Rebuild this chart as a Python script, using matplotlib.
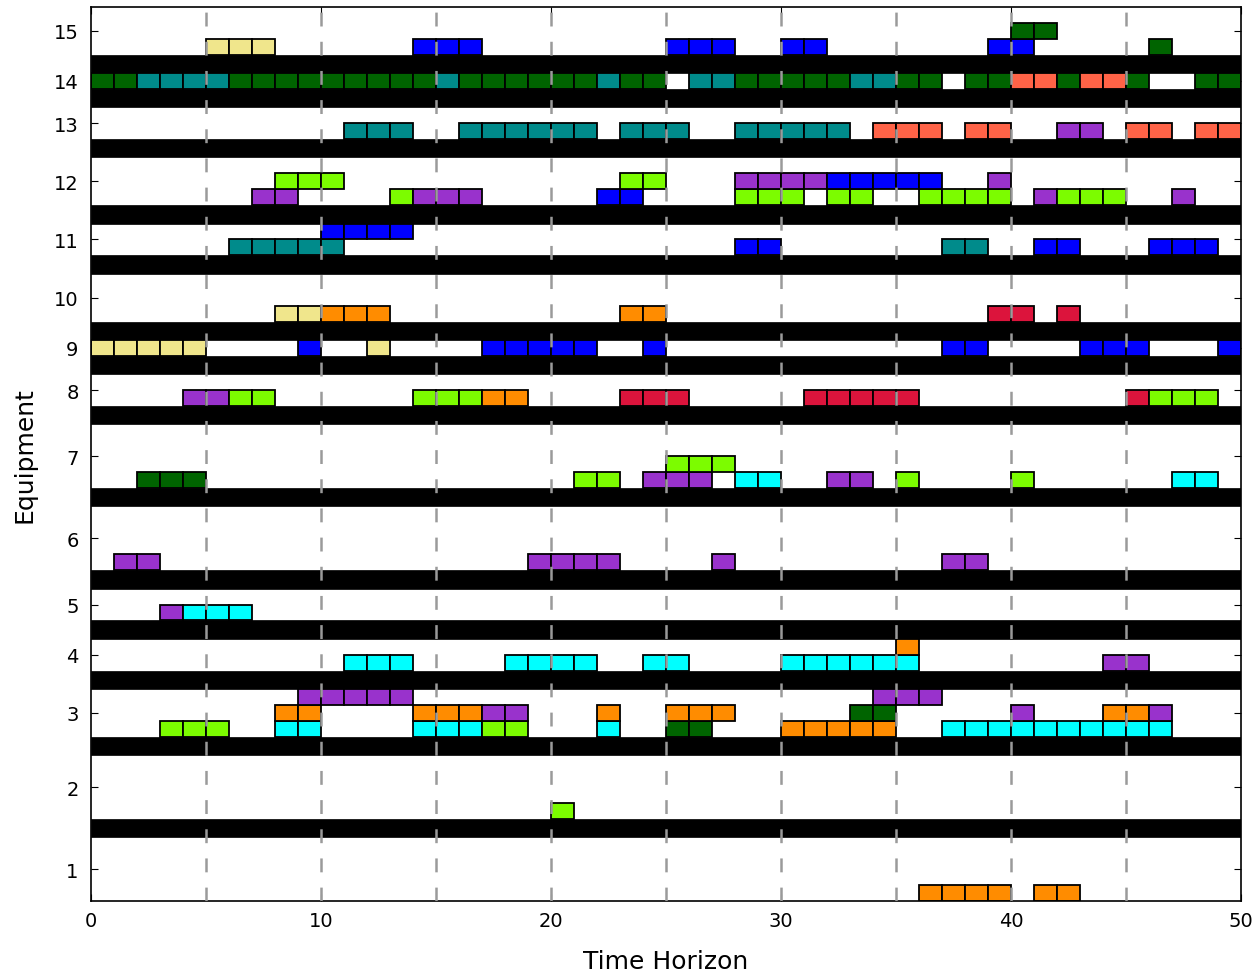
import numpy as np
import matplotlib
matplotlib.use('Agg')
from matplotlib import pyplot as plt
from matplotlib.patches import Rectangle

# colour keys used in the task lists
colors = {
    'K': '#F0E68C',  # khaki
    'B': '#0000FF',  # blue
    'G': '#006400',  # darkgreen
    'T': '#008B8B',  # darkcyan
    'R': '#FF6347',  # tomato
    'P': '#9932CC',  # darkorchid
    'L': '#7CFC00',  # lawngreen
    'C': '#DC143C',  # crimson
    'O': '#FF8C00',  # darkorange
    'A': '#00FFFF',  # cyan
}

# lane height (in block units) of equipment 1..15
lane_height = [4, 4, 3, 2, 2, 4, 4, 2, 1, 3, 2, 3, 2, 1, 3]

# tasks per equipment: (start, length, level, colour)
eq1 = [(36, 4, 0, 'O'), (41, 2, 0, 'O')]
eq2 = [(20, 1, 0, 'L')]
eq3 = [(3, 3, 0, 'L'), (8, 2, 0, 'A'), (14, 3, 0, 'A'), (17, 2, 0, 'L'), (22, 1, 0, 'A'),
       (25, 2, 0, 'G'), (30, 5, 0, 'O'), (37, 10, 0, 'A'),
       (8, 2, 1, 'O'), (14, 3, 1, 'O'), (17, 2, 1, 'P'), (22, 1, 1, 'O'), (25, 3, 1, 'O'),
       (33, 2, 1, 'G'), (40, 1, 1, 'P'), (44, 2, 1, 'O'), (46, 1, 1, 'P'),
       (9, 5, 2, 'P'), (34, 3, 2, 'P')]
eq4 = [(11, 3, 0, 'A'), (18, 4, 0, 'A'), (24, 2, 0, 'A'), (30, 6, 0, 'A'), (44, 2, 0, 'P'),
       (35, 1, 1, 'O')]
eq5 = [(3, 1, 0, 'P'), (4, 3, 0, 'A')]
eq6 = [(1, 2, 0, 'P'), (19, 4, 0, 'P'), (27, 1, 0, 'P'), (37, 2, 0, 'P')]
eq7 = [(2, 3, 0, 'G'), (21, 2, 0, 'L'), (24, 3, 0, 'P'), (28, 2, 0, 'A'), (32, 2, 0, 'P'),
       (35, 1, 0, 'L'), (40, 1, 0, 'L'), (47, 2, 0, 'A'),
       (25, 3, 1, 'L')]
eq8 = [(4, 2, 0, 'P'), (6, 2, 0, 'L'), (14, 3, 0, 'L'), (17, 2, 0, 'O'), (23, 3, 0, 'C'),
       (31, 5, 0, 'C'), (45, 1, 0, 'C'), (46, 3, 0, 'L')]
eq9 = [(0, 5, 0, 'K'), (9, 1, 0, 'B'), (12, 1, 0, 'K'), (17, 5, 0, 'B'), (24, 1, 0, 'B'),
       (37, 2, 0, 'B'), (43, 3, 0, 'B'), (49, 1, 0, 'B')]
eq10 = [(8, 2, 0, 'K'), (10, 3, 0, 'O'), (23, 2, 0, 'O'), (39, 2, 0, 'C'), (42, 1, 0, 'C')]
eq11 = [(6, 5, 0, 'T'), (28, 2, 0, 'B'), (37, 2, 0, 'T'), (41, 2, 0, 'B'), (46, 3, 0, 'B'),
        (10, 4, 1, 'B')]
eq12 = [(7, 2, 0, 'P'), (13, 1, 0, 'L'), (14, 3, 0, 'P'), (22, 2, 0, 'B'), (28, 3, 0, 'L'),
        (32, 2, 0, 'L'), (36, 4, 0, 'L'), (41, 1, 0, 'P'), (42, 3, 0, 'L'), (47, 1, 0, 'P'),
        (8, 3, 1, 'L'), (23, 2, 1, 'L'), (28, 4, 1, 'P'), (32, 5, 1, 'B'), (39, 1, 1, 'P')]
eq13 = [(11, 3, 0, 'T'), (16, 6, 0, 'T'), (23, 3, 0, 'T'), (28, 5, 0, 'T'), (34, 3, 0, 'R'),
        (38, 2, 0, 'R'), (42, 2, 0, 'P'), (45, 2, 0, 'R'), (48, 2, 0, 'R')]
eq14 = [(0, 2, 0, 'G'), (2, 4, 0, 'T'), (6, 9, 0, 'G'), (15, 1, 0, 'T'), (16, 6, 0, 'G'),
        (22, 1, 0, 'T'), (23, 2, 0, 'G'), (26, 2, 0, 'T'), (28, 5, 0, 'G'), (33, 2, 0, 'T'),
        (35, 2, 0, 'G'), (38, 2, 0, 'G'), (40, 2, 0, 'R'), (42, 1, 0, 'G'), (43, 2, 0, 'R'),
        (45, 1, 0, 'G'), (48, 2, 0, 'G')]
eq15 = [(5, 3, 0, 'K'), (14, 3, 0, 'B'), (25, 3, 0, 'B'), (30, 2, 0, 'B'), (39, 2, 0, 'B'),
        (46, 1, 0, 'G'), (40, 2, 1, 'G')]

tasks = [eq1, eq2, eq3, eq4, eq5, eq6, eq7, eq8, eq9, eq10, eq11, eq12, eq13, eq14, eq15]
horizon = 50
bar_h = 1.15  # black separator between lanes

plt.rcParams['lines.scale_dashes'] = False

fig = plt.figure(figsize=(12.59, 9.78), dpi=100)
ax = fig.add_axes([0.0723, 0.0777, 0.9134, 0.9144])

y = 0
centers = []
for i, (h, jobs) in enumerate(zip(lane_height, tasks)):
    centers.append(y + h / 2)
    for start, length, level, c in jobs:
        for t in range(start, start + length):
            ax.add_patch(Rectangle((t, y + level), 1, 1, facecolor=colors[c],
                                   edgecolor='black', linewidth=1.3, zorder=2))
    y += h
    if i < len(lane_height) - 1:
        # separator bar
        ax.add_patch(Rectangle((0, y), horizon, bar_h, facecolor='black',
                               edgecolor='black', linewidth=0.5, zorder=1))
        y += bar_h

ax.set_xlim(0, horizon)
ax.set_ylim(0, y)

# dashed grid every 5 time units
for gx in np.arange(5, horizon, 5):
    ax.axvline(gx, color='#9a9a9a', linewidth=1.8, dashes=(10, 11), zorder=5)

ax.set_xticks(np.arange(0, horizon + 1, 10))
ax.set_yticks(centers)
ax.set_yticklabels([str(k) for k in range(1, len(lane_height) + 1)])
ax.tick_params(direction='in', top=True, right=True, length=5, labelsize=14)
ax.tick_params(axis='y', pad=9)
ax.tick_params(axis='x', pad=7)
for s in ax.spines.values():
    s.set_linewidth(1.2)

ax.set_xlabel('Time Horizon', fontsize=18, labelpad=14)
ax.set_ylabel('Equipment', fontsize=18, labelpad=12)

fig.savefig('out.png', dpi=100)
